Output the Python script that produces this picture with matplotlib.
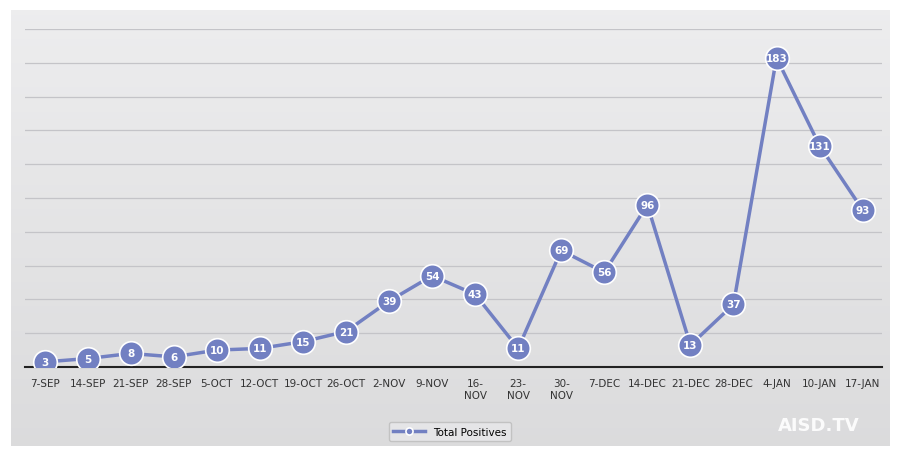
import matplotlib.pyplot as plt
import numpy as np

weeks = ['7-SEP', '14-SEP', '21-SEP', '28-SEP', '5-OCT', '12-OCT', '19-OCT', '26-OCT',
         '2-NOV', '9-NOV', '16-\nNOV', '23-\nNOV', '30-\nNOV', '7-DEC', '14-DEC',
         '21-DEC', '28-DEC', '4-JAN', '10-JAN', '17-JAN']
positives = [3, 5, 8, 6, 10, 11, 15, 21, 39, 54, 43, 11, 69, 56, 96, 13, 37, 183, 131, 93]

line_col = '#7280c2'

fig = plt.figure(figsize=(9, 4.56), dpi=100)
fig.patch.set_facecolor('white')
# gray card background
bg = fig.add_axes([0.012, 0.02, 0.976, 0.955])
grad = np.linspace(0.93, 0.86, 256).reshape(-1, 1)
bg.imshow(np.dstack([grad, grad, grad + 0.005]), aspect='auto', extent=[0, 1, 0, 1])
bg.axis('off')

ax = fig.add_axes([0.028, 0.193, 0.952, 0.741])
ax.patch.set_alpha(0)
x = np.arange(len(weeks))
ax.plot(x, positives, color=line_col, lw=2.5, marker='o', markersize=17,
        markerfacecolor=line_col, markeredgecolor='white', markeredgewidth=1.2,
        label='Total Positives', zorder=3)
for xi, v in zip(x, positives):
    ax.text(xi, v, str(v), ha='center', va='center', color='white',
            fontsize=7.5, fontweight='bold', zorder=4)

ax.set_ylim(0, 200)
ax.set_xlim(-0.45, len(weeks) - 0.55)
ax.set_yticks(np.arange(0, 201, 20))
ax.yaxis.grid(True, color='#c4c4c8', lw=0.9)
ax.tick_params(axis='y', left=False, labelleft=False)
ax.tick_params(axis='x', length=0, labelsize=7.5, colors='#333333', pad=8)
ax.set_xticks(x)
ax.set_xticklabels(weeks, va='top')
for s in ['top', 'right', 'left']:
    ax.spines[s].set_visible(False)
ax.spines['bottom'].set_color('#222222')
ax.spines['bottom'].set_linewidth(1.5)
ax.set_axisbelow(True)

leg = fig.legend(loc='lower center', bbox_to_anchor=(0.5, 0.02), fontsize=7.5,
                 frameon=True, handlelength=3, markerscale=0.3)
leg.get_frame().set_edgecolor('#bbbbbb')
leg.get_frame().set_facecolor('#e8e8ea')

fig.text(0.955, 0.045, 'AISD.TV', ha='right', va='bottom', fontsize=13,
         fontweight='bold', color='white', alpha=0.9)

fig.savefig('out.png', dpi=100)
